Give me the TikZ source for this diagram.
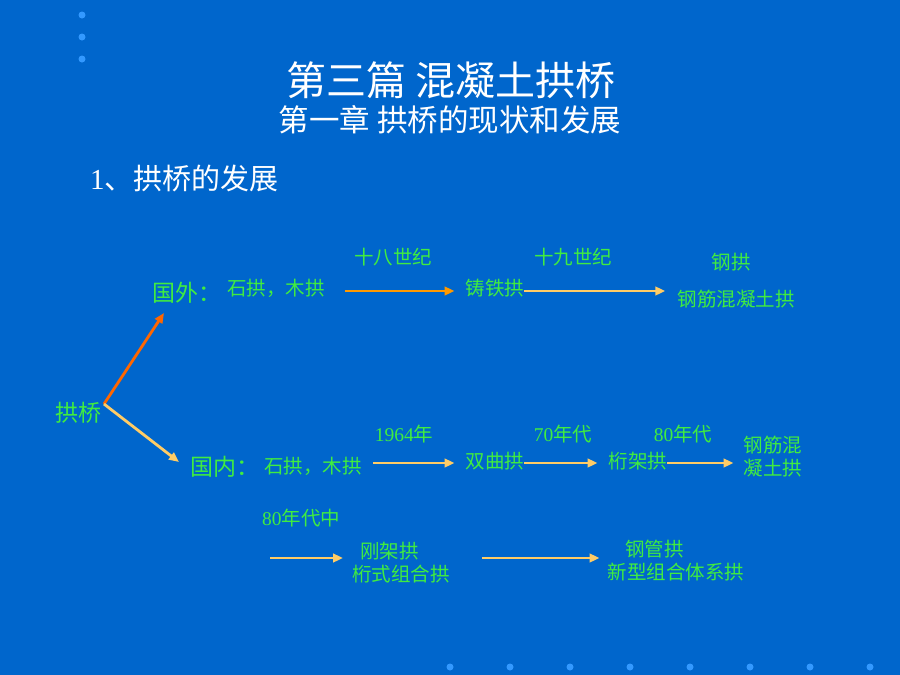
\documentclass[tikz,border=0pt]{standalone}
\usepackage{fontspec}
\setmainfont{Liberation Serif}
\newfontfamily\cjk{Noto Sans CJK SC}
\usetikzlibrary{arrows.meta}
\definecolor{slidebg}{RGB}{0,102,204}
\definecolor{dotblue}{RGB}{51,153,255}
\definecolor{txtgreen}{RGB}{64,236,64}
\definecolor{arrorange}{RGB}{255,153,0}
\definecolor{arrlight}{RGB}{255,204,102}
\definecolor{arrred}{RGB}{255,102,0}
\tikzset{
  lbl/.style={inner sep=0pt, text=txtgreen, font=\fontsize{19.5}{23}\selectfont\cjk},
  big/.style={inner sep=0pt, text=txtgreen, font=\fontsize{23}{27}\selectfont\cjk},
  arr/.style={-{Triangle[length=10pt,width=8.5pt]}, line width=2.8pt},
}
\begin{document}
\begin{tikzpicture}[x=1pt,y=-1pt]
	\fill[slidebg] (0,0) rectangle (900,675);
	\useasboundingbox (0,0) rectangle (900,675);
	% dots
	\foreach \y in {15,37,59}
	\fill[dotblue] (82,\y) circle (3.5pt);
	\foreach \x in {450,510,...,870}
	\fill[dotblue] (\x,667) circle (3.5pt);
	% titles
	\node[inner sep=0pt, text=white, font=\fontsize{40}{44}\selectfont\cjk] (T1) at (451,80)
	{第三篇 混凝土拱桥};
	\node[inner sep=0pt, text=white, font=\fontsize{30.5}{34}\selectfont\cjk] (T2) at (450,120)
	{第一章 拱桥的现状和发展};
	\node[inner sep=0pt, text=white, font=\fontsize{29}{33}\selectfont\cjk, anchor=west] (H) at (90,178)
	{{\rmfamily 1}、拱桥的发展};
	
	% rows of arrows
	\coordinate (rowA) at (0,291);
	\coordinate (rowB) at (0,463);
	\coordinate (rowC) at (0,558);
	
	% root
	\node[big] (GQ) at (78,413) {拱桥};
	\coordinate (R) at (104,404);
	
	% foreign
	\node[big, anchor=west] (GW) at (152,293) {国外：};
	\node[lbl] (GW1) at (276,288) {石拱，木拱};
	\node[lbl] (GW2) at (495,288) {铸铁拱};
	\node[lbl] (GW3a) at (731,262) {钢拱};
	\node[lbl] (GW3) at (736,299) {钢筋混凝土拱};
	\node[lbl] (C18) at (393,257) {十八世纪};
	\node[lbl] (C19) at (573,257) {十九世纪};
	
	% domestic
	\node[big, anchor=west] (GN) at (190,467) {国内：};
	\node[lbl] (GN1) at (313,466) {石拱，木拱};
	\node[lbl] (GN2) at (495,461) {双曲拱};
	\node[lbl] (GN3) at (638,461) {桁架拱};
	\node[lbl, align=center] (GN4) at (773,457) {钢筋混\\凝土拱};
	\node[lbl] (Y64) at (404,434) {{\rmfamily 1964}年};
	\node[lbl] (Y70) at (563,434) {{\rmfamily 70}年代};
	\node[lbl] (Y80) at (683,434) {{\rmfamily 80}年代};
	
	% 80s
	\node[lbl] (Y80m) at (301,518) {{\rmfamily 80}年代中};
	\coordinate (S80) at (270,558);
	\node[lbl, align=center] (GN5) at (401,563) {\hspace*{-1.2em}刚架拱\\桁式组合拱};
	\node[lbl, align=center] (GN6) at (676,561) {\hspace*{-2.2em}钢管拱\\新型组合体系拱};
	
	\draw[arr, arrred] (R) -- (164,313);
	\draw[arr, arrlight] (R) -- (179,462);
	\draw[arr, arrorange] ([xshift=20pt]GW1.east|-rowA) -- ([xshift=-11pt]GW2.west|-rowA);
	\draw[arr, arrlight] (GW2.east|-rowA) -- ([xshift=-12pt]GW3.west|-rowA);
	\draw[arr, arrlight] ([xshift=11pt]GN1.east|-rowB) -- ([xshift=-11pt]GN2.west|-rowB);
	\draw[arr, arrlight] (GN2.east|-rowB) -- ([xshift=-11pt]GN3.west|-rowB);
	\draw[arr, arrlight] (GN3.east|-rowB) -- ([xshift=-10pt]GN4.west|-rowB);
	\draw[arr, arrlight] (S80) -- ([xshift=-9pt]GN5.west|-rowC);
	\draw[arr, arrlight] ([xshift=32pt]GN5.east|-rowC) -- ([xshift=-8pt]GN6.west|-rowC);
\end{tikzpicture}
\end{document}
